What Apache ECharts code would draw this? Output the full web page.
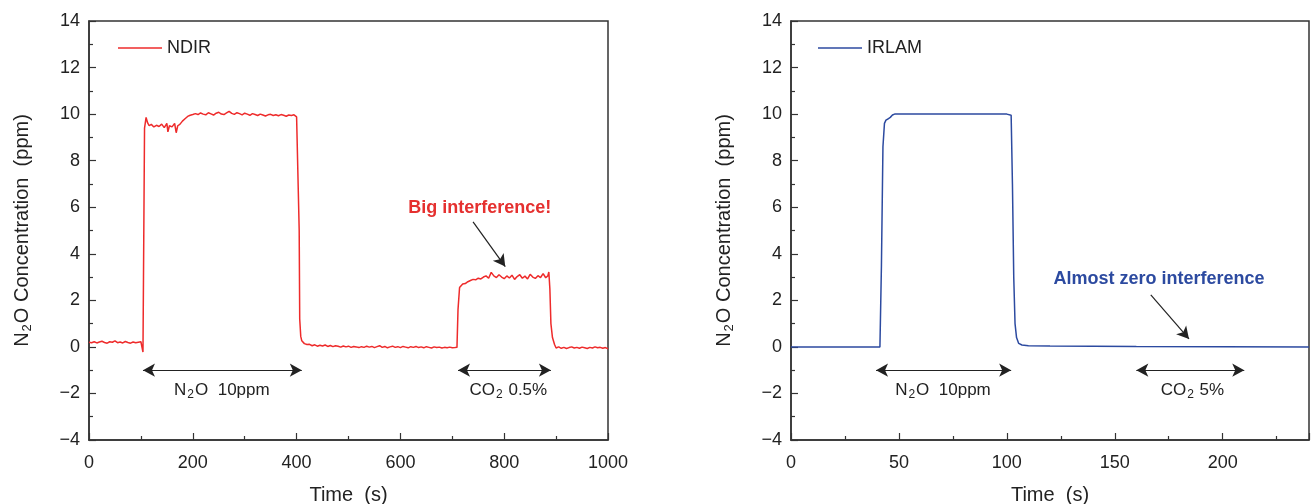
<!DOCTYPE html>
<html><head><meta charset="utf-8">
<script src="https://cdn.jsdelivr.net/npm/echarts@6/dist/echarts.min.js"></script>
<style>html,body{margin:0;padding:0;background:#fff}#c{width:1311px;height:504px}</style>
</head><body><div id="c"></div>
<script>
// ---- Data ----
const yTicks = [-4, -2, 0, 2, 4, 6, 8, 10, 12, 14];

const ndirTime = [0,5,10,15,20,25,30,35,40,45,50,55,60,65,70,75,80,85,90,95,100,102,104,105,107,110,113,116,120,125,130,135,140,145,150,152,155,160,165,168,171,175,180,185,190,195,200,
205,210,215,220,225,230,235,240,245,250,255,260,265,270,275,280,285,290,295,300,305,310,315,320,325,330,335,340,345,350,355,360,365,370,375,380,385,390,395,400,403,405,406,408,410,415,420,
425,430,435,440,445,450,455,460,465,470,475,480,485,490,495,500,505,510,515,520,525,530,535,540,545,550,555,560,565,570,575,580,585,590,595,600,605,610,615,620,625,630,635,640,645,650,655,660,665,670,675,680,685,690,695,700,705,709,711,714,717,720,725,730,735,740,745,750,755,760,765,770,775,780,785,790,795,800,805,810,815,820,825,830,835,840,845,850,855,860,865,870,875,880,884,886,888,890,893,897,900,905,910,915,920,925,930,935,940,945,950,955,960,965,970,975,980,985,990,995,1000];
const ndirValue = [0.20,0.18,0.22,0.17,0.21,0.24,0.19,0.16,0.22,0.20,0.26,0.18,0.21,0.17,0.23,0.19,0.16,0.21,0.18,0.20,0.22,0.15,-0.22,3.0,9.4,9.86,9.62,9.5,9.56,9.45,9.52,9.47,9.57,9.42,9.6,9.24,9.5,9.45,9.6,9.2,9.5,9.56,9.7,9.8,9.9,9.95,9.98,
10.02,9.98,10.05,10.0,9.97,10.06,10.01,9.96,10.04,10.08,10.0,9.98,10.05,10.12,10.03,9.99,10.06,10.02,9.97,10.04,10.0,9.95,10.02,9.98,9.94,10.0,9.96,9.92,9.97,9.99,9.94,9.97,9.93,9.98,9.95,9.91,9.96,9.94,9.97,9.88,9.85,5.0,1.2,0.45,0.26,0.14,0.1,
0.11,0.05,0.09,0.03,0.07,0.04,0.08,0.02,0.06,0.01,0.05,0.03,-0.01,0.04,0.0,0.03,-0.02,0.02,0.0,-0.03,0.01,-0.02,0.03,-0.01,0.02,-0.03,0.01,0.05,-0.02,0.02,-0.04,0.0,0.03,-0.02,0.01,-0.03,0.02,-0.01,-0.04,0.01,-0.02,0.02,-0.03,0.0,-0.04,0.01,-0.02,-0.05,0.0,-0.03,-0.01,-0.05,-0.02,-0.04,-0.01,-0.04,-0.03,-0.02,1.6,2.55,2.62,2.7,2.72,2.8,2.85,2.9,2.88,2.95,2.92,3.0,3.05,2.95,3.2,3.05,2.98,3.1,3.0,2.93,3.05,2.96,3.08,2.9,3.02,3.1,2.95,3.04,2.92,3.12,3.0,2.94,3.06,2.98,3.15,2.97,3.05,3.22,2.5,1.0,0.4,0.1,-0.05,0.0,-0.06,-0.02,-0.07,-0.03,0.0,-0.05,-0.02,-0.06,-0.01,-0.04,-0.07,-0.02,-0.05,0.0,-0.04,-0.02,-0.06,-0.03,-0.08,-0.05];

const irlamTime  = [0,20,41.2,41.9,42.6,43.3,44,45,46,47,48,60,80,100,102,102.6,103.2,103.8,104.5,105.5,107,110,120,140,160,200,240];
const irlamValue = [0,0,0,3.5,8.6,9.6,9.74,9.8,9.86,9.96,10.0,10.0,10.0,10.0,9.95,7.0,3.0,1.0,0.4,0.15,0.08,0.05,0.04,0.03,0.02,0.01,0.0];

const RED = '#ee2b2b', BLUE = '#2c4aa0', INK = '#222';
const zip = (a, b) => a.map((t, i) => [t, b[i]]);

const chart = echarts.init(document.getElementById('c'));
const font = 'Liberation Sans, Arial, sans-serif';
const rich = {
  a: {fontSize: 17, color: INK, fontFamily: font},
  s: {fontSize: 12, color: INK, fontFamily: font, padding: [9, 1, 0, 1]}
};
function yAxis(gi) {
  return {
    gridIndex: gi, type: 'value', min: -4, max: 14, interval: 2,
    name: '{a|N}{s|2}{a|O Concentration  (ppm)}', nameLocation: 'middle', nameGap: 55,
    nameTextStyle: {rich: {
      a: {fontSize: 20, color: INK, fontFamily: font},
      s: {fontSize: 13, color: INK, fontFamily: font, padding: [10, 1, 0, 1]}
    }},
    axisLine: {show: true, lineStyle: {color: '#333', width: 1.5}},
    axisTick: {show: true, inside: true, length: 7, lineStyle: {color: '#333', width: 1.2}},
    minorTick: {show: true, splitNumber: 2, length: 4, lineStyle: {color: '#333', width: 1.2}},
    splitLine: {show: false},
    axisLabel: {color: INK, fontSize: 18, fontFamily: font, margin: 9,
      formatter: v => (v < 0 ? '\u2212' + (-v) : '' + v)}
  };
}
function xAxis(gi, max, interval) {
  return {
    gridIndex: gi, type: 'value', min: 0, max: max, interval: interval,
    name: 'Time  (s)', nameLocation: 'middle', nameGap: 45,
    nameTextStyle: {fontSize: 20, color: INK, fontFamily: font},
    axisLine: {show: true, onZero: false, lineStyle: {color: '#333', width: 1.5}},
    axisTick: {show: true, inside: true, length: 7, lineStyle: {color: '#333', width: 1.2}},
    minorTick: {show: true, splitNumber: 2, length: 4, lineStyle: {color: '#333', width: 1.2}},
    splitLine: {show: false},
    axisLabel: {color: INK, fontSize: 18, fontFamily: font, margin: 14, showMaxLabel: max % interval === 0,
      formatter: v => '' + v}
  };
}
const arrowLine = (pairs, both) => ({
  silent: true, animation: false,
  symbol: both ? ['arrow', 'arrow'] : ['none', 'arrow'], symbolSize: [10, 12],
  lineStyle: {color: '#222', width: 1.2, type: 'solid'},
  label: {show: false},
  data: pairs.map(p => [{coord: p[0]}, {coord: p[1]}])
});
const textPoints = items => ({
  silent: true, animation: false, symbol: 'rect', symbolSize: 1,
  itemStyle: {color: 'rgba(0,0,0,0)'},
  data: items.map(it => ({coord: it.c, label: {show: true, position: 'inside', formatter: it.t, rich: rich,
    fontSize: it.fs || 17, fontWeight: it.fw || 'normal', color: it.col || INK, fontFamily: font}}))
});

chart.setOption({
  animation: false,
  grid: [
    {left: 89, width: 519, top: 21, height: 419, show: true, borderColor: '#333', borderWidth: 1.5,
      containLabel: false, outerBoundsMode: 'none'},
    {left: 791, width: 518, top: 21, height: 419, show: true, borderColor: '#333', borderWidth: 1.5,
      containLabel: false, outerBoundsMode: 'none'}
  ],
  legend: [
    {data: [{name: 'NDIR', icon: 'rect'}], left: 113, top: 34, itemWidth: 44, itemHeight: 1.5, itemGap: 5,
      textStyle: {fontSize: 18, color: INK, fontFamily: font}},
    {data: [{name: 'IRLAM', icon: 'rect'}], left: 813, top: 34, itemWidth: 44, itemHeight: 1.5, itemGap: 5,
      textStyle: {fontSize: 18, color: INK, fontFamily: font}}
  ],
  xAxis: [xAxis(0, 1000, 200), xAxis(1, 240, 50)],
  yAxis: [yAxis(0), yAxis(1)],
  series: [
    {name: 'NDIR', type: 'line', xAxisIndex: 0, yAxisIndex: 0, data: zip(ndirTime, ndirValue),
      symbol: 'none', lineStyle: {color: RED, width: 1.5}, itemStyle: {color: RED},
      markLine: arrowLine([[[104, -1], [410, -1]], [[711, -1], [890, -1]]], true),
      markPoint: textPoints([
        {c: [256, -1.85], t: '{a|N}{s|2}{a|O  10ppm}'},
        {c: [808, -1.85], t: '{a|CO}{s|2}{a| 0.5%}'},
        {c: [753, 5.97], t: 'Big interference!', fw: 'bold', col: '#e5302f', fs: 18}
      ])
    },
    {name: 'NDIR-arrow', type: 'line', xAxisIndex: 0, yAxisIndex: 0, data: [],
      markLine: arrowLine([[[740, 5.37], [802, 3.45]]], false)},
    {name: 'IRLAM', type: 'line', xAxisIndex: 1, yAxisIndex: 1, data: zip(irlamTime, irlamValue),
      symbol: 'none', lineStyle: {color: BLUE, width: 1.5}, itemStyle: {color: BLUE},
      markLine: arrowLine([[[39.4, -1], [102, -1]], [[160, -1], [210, -1]]], true),
      markPoint: textPoints([
        {c: [70.4, -1.85], t: '{a|N}{s|2}{a|O  10ppm}'},
        {c: [186, -1.85], t: '{a|CO}{s|2}{a| 5%}'},
        {c: [170.5, 2.92], t: 'Almost zero interference', fw: 'bold', col: BLUE, fs: 18}
      ])
    },
    {name: 'IRLAM-arrow', type: 'line', xAxisIndex: 1, yAxisIndex: 1, data: [],
      markLine: arrowLine([[[166.7, 2.23], [184.4, 0.34]]], false)}
  ]
});
</script></body></html>
